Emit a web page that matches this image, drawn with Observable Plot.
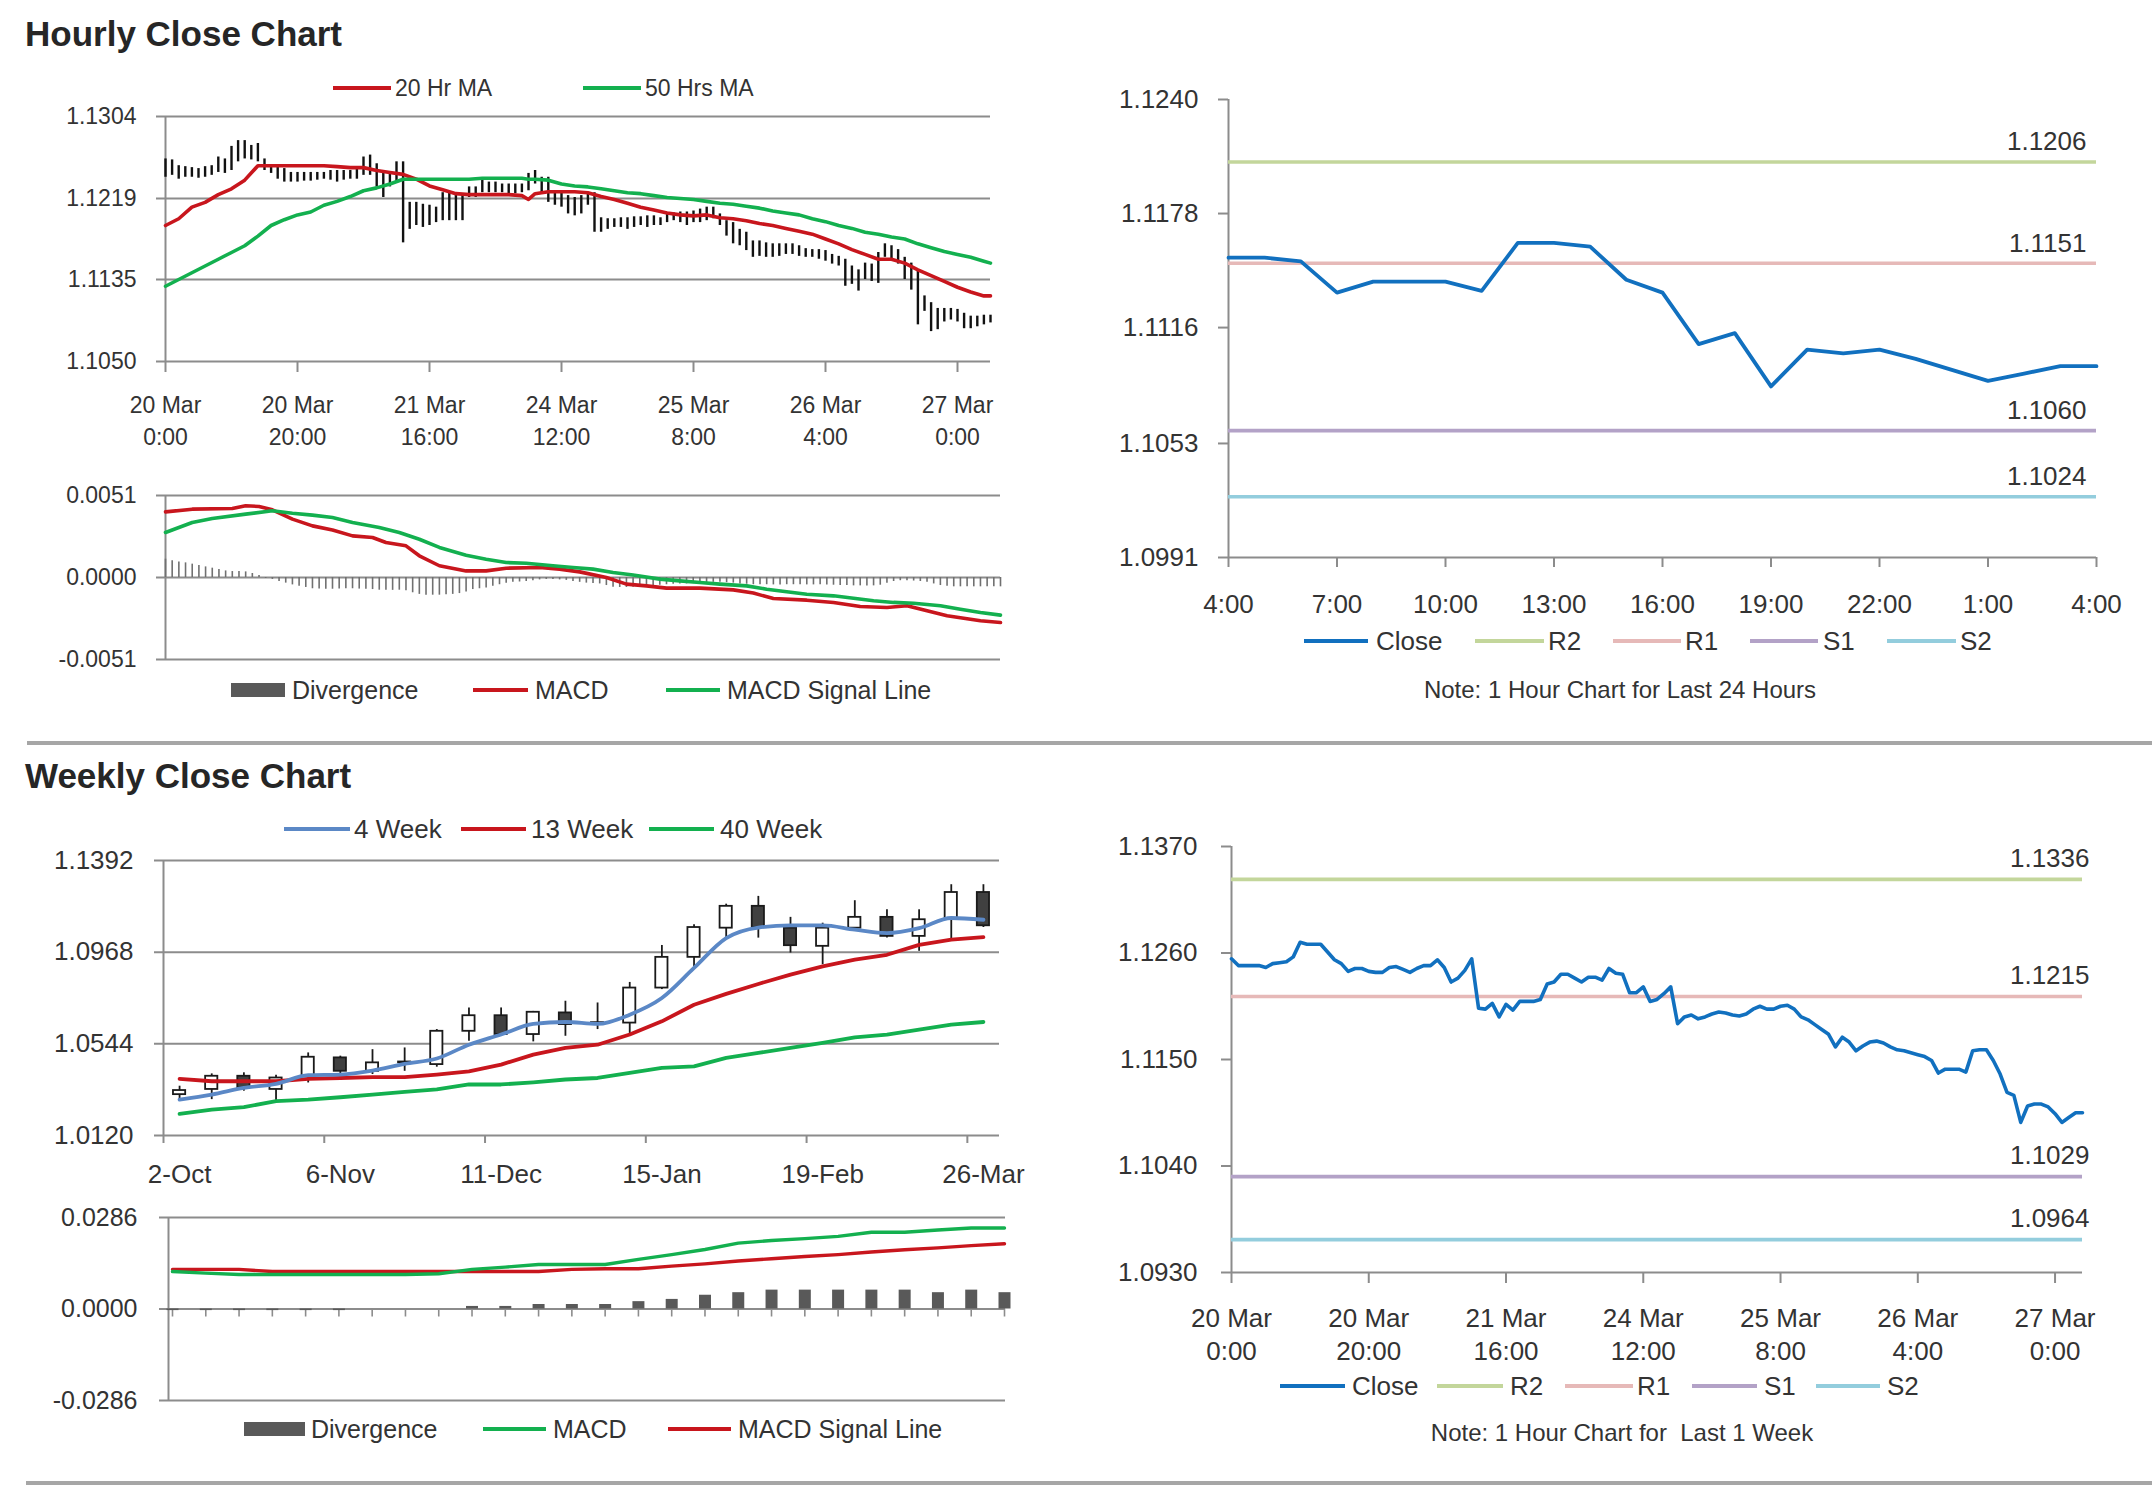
<!DOCTYPE html>
<html><head><meta charset="utf-8">
<script src="https://cdn.jsdelivr.net/npm/d3@7"></script>
<script src="https://cdn.jsdelivr.net/npm/@observablehq/plot@0.6"></script>
<style>
html,body{margin:0;padding:0;background:#fff;}
#page{position:relative;width:2152px;height:1485px;overflow:hidden;background:#fff;font-family:"Liberation Sans",Arial,Helvetica,sans-serif;color:#333;}
#page svg{overflow:visible;}
.title{position:absolute;font-weight:bold;font-size:35px;line-height:35px;color:#262626;white-space:nowrap;}
.sep{position:absolute;background:#a6a6a6;height:4px;}
</style></head>
<body><div id="page"></div>
<script>
// ---------------- DATA ----------------
// Hourly panel (20 Mar 0:00 .. 27 Mar ~5:00), one bar per hour
const hourTickPos = [0, 20, 40, 60, 80, 100, 120];
const hourTickLabels = ["20 Mar\n0:00", "20 Mar\n20:00", "21 Mar\n16:00", "24 Mar\n12:00", "25 Mar\n8:00", "26 Mar\n4:00", "27 Mar\n0:00"];
const p1YTicks = [1.1050, 1.1135, 1.1219, 1.1304];
const p1High = [1.1260,1.1259,1.1253,1.1252,1.1251,1.1250,1.1252,1.1253,1.1262,1.1260,
1.1273,1.1279,1.1279,1.1274,1.1276,1.1260,1.1253,1.1252,1.1250,1.1246,
1.1246,1.1246,1.1246,1.1246,1.1246,1.1248,1.1248,1.1248,1.1248,1.1250,
1.1262,1.1264,1.1255,1.1245,1.1246,1.1257,1.1257,1.1215,1.1215,1.1213,
1.1212,1.1210,1.1225,1.1225,1.1225,1.1222,1.1231,1.1231,1.1238,1.1236,
1.1236,1.1234,1.1234,1.1234,1.1234,1.1245,1.1248,1.1241,1.1241,1.1227,
1.1225,1.1222,1.1220,1.1222,1.1225,1.1225,1.1199,1.1198,1.1198,1.1199,
1.1199,1.1200,1.1200,1.1201,1.1201,1.1199,1.1203,1.1204,1.1205,1.1205,
1.1206,1.1208,1.1210,1.1210,1.1203,1.1196,1.1194,1.1187,1.1184,1.1175,
1.1175,1.1173,1.1172,1.1172,1.1172,1.1172,1.1170,1.1167,1.1166,1.1166,
1.1165,1.1161,1.1159,1.1156,1.1149,1.1145,1.1152,1.1151,1.1163,1.1172,
1.1170,1.1166,1.1158,1.1152,1.1145,1.1118,1.1111,1.1105,1.1105,1.1105,
1.1104,1.1100,1.1097,1.1097,1.1098,1.1098];
const p1Low = [1.1241,1.1243,1.1239,1.1241,1.1241,1.1240,1.1241,1.1243,1.1246,1.1245,
1.1248,1.1257,1.1260,1.1259,1.1257,1.1248,1.1245,1.1239,1.1236,1.1236,
1.1236,1.1237,1.1237,1.1238,1.1239,1.1238,1.1236,1.1238,1.1239,1.1239,
1.1243,1.1243,1.1231,1.1220,1.1231,1.1236,1.1173,1.1187,1.1191,1.1189,
1.1191,1.1194,1.1196,1.1196,1.1196,1.1196,1.1220,1.1220,1.1225,1.1225,
1.1225,1.1225,1.1224,1.1224,1.1225,1.1227,1.1234,1.1225,1.1215,1.1212,
1.1210,1.1203,1.1201,1.1203,1.1212,1.1184,1.1184,1.1187,1.1189,1.1189,
1.1187,1.1189,1.1191,1.1189,1.1191,1.1191,1.1194,1.1196,1.1194,1.1191,
1.1194,1.1194,1.1196,1.1198,1.1191,1.1180,1.1172,1.1170,1.1165,1.1158,
1.1159,1.1158,1.1158,1.1159,1.1161,1.1161,1.1159,1.1158,1.1158,1.1156,
1.1154,1.1151,1.1149,1.1128,1.1130,1.1123,1.1135,1.1133,1.1131,1.1158,
1.1156,1.1151,1.1135,1.1124,1.1088,1.1102,1.1081,1.1083,1.1091,1.1093,
1.1091,1.1084,1.1084,1.1086,1.1088,1.1090];
const maHours = [0,2,4,6,8,10,12,14,16,18,20,22,24,26,28,30,32,34,36,38,40,42,44,46,48,50,52,54,55,56,58,60,62,64,66,68,70,72,74,76,78,80,82,84,86,88,90,92,94,96,98,100,102,104,106,108,110,112,114,116,118,120,122,124,125];
const ma20 = [1.1191,1.1198,1.1210,1.1215,1.1223,1.1229,1.1238,1.1253,1.1253,1.1253,1.1253,1.1253,1.1253,1.1252,1.1251,1.1251,1.1248,1.1246,1.1244,1.1239,1.1232,1.1228,1.1224,1.1223,1.1223,1.1223,1.1223,1.1222,1.1218,1.1224,1.1226,1.1226,1.1226,1.1225,1.1221,1.1218,1.1214,1.1210,1.1207,1.1204,1.1202,1.1201,1.1202,1.1199,1.1198,1.1196,1.1193,1.1191,1.1188,1.1185,1.1182,1.1177,1.1172,1.1166,1.1161,1.1156,1.1156,1.1152,1.1145,1.1139,1.1133,1.1127,1.1122,1.1118,1.1118];
const ma50 = [1.1128,1.1135,1.1142,1.1149,1.1156,1.1163,1.1170,1.1180,1.1191,1.1197,1.1202,1.1205,1.1212,1.1216,1.1221,1.1227,1.1230,1.1234,1.1239,1.1239,1.1239,1.1239,1.1239,1.1239,1.1240,1.1240,1.1240,1.1240,1.1239,1.1239,1.1238,1.1234,1.1232,1.1231,1.1229,1.1227,1.1225,1.1224,1.1222,1.1220,1.1219,1.1218,1.1216,1.1214,1.1213,1.1211,1.1209,1.1206,1.1204,1.1202,1.1198,1.1195,1.1191,1.1188,1.1184,1.1182,1.1179,1.1177,1.1172,1.1168,1.1164,1.1161,1.1158,1.1154,1.1152];
const p1Series = ["20 Hr MA", "50 Hrs MA"];

// Hourly MACD
const p2YTicks = [-0.0051, 0, 0.0051];
const p2Div = [0.00114,0.00104,0.00097,0.00091,0.00083,0.00075,0.00066,0.00058,0.0005,0.00041,
0.00037,0.00037,0.00035,0.00025,0.00012,-0.00006,-0.00012,-0.00025,-0.00035,-0.00046,
-0.00054,-0.00062,-0.0007,-0.00072,-0.00073,-0.00073,-0.00072,-0.0007,-0.0007,-0.00072,
-0.00073,-0.00075,-0.00079,-0.0008,-0.0008,-0.00079,-0.00082,-0.00095,-0.00105,-0.0011,
-0.0011,-0.0011,-0.00108,-0.00105,-0.001,-0.0009,-0.00075,-0.0007,-0.00065,-0.00055,
-0.00045,-0.00035,-0.0003,-0.00028,-0.00025,-0.0002,-0.00015,-0.00012,-0.00012,-0.00015,
-0.00018,-0.00025,-0.0003,-0.00035,-0.00038,-0.0004,-0.0005,-0.0006,-0.00062,-0.00062,
-0.0006,-0.00055,-0.00052,-0.0005,-0.00048,-0.00045,-0.00042,-0.0004,-0.0004,-0.00038,
-0.00035,-0.00032,-0.0003,-0.0003,-0.00032,-0.00035,-0.0004,-0.00042,-0.00045,-0.00045,
-0.00045,-0.00046,-0.00046,-0.00045,-0.00045,-0.00045,-0.00046,-0.00046,-0.00045,-0.00046,
-0.00048,-0.0005,-0.0005,-0.00052,-0.00052,-0.00053,-0.00052,-0.00048,-0.00035,-0.00025,
-0.0002,-0.0002,-0.00022,-0.00025,-0.0003,-0.0004,-0.0005,-0.00055,-0.00058,-0.00058,
-0.00058,-0.00058,-0.00058,-0.00058,-0.00058,-0.00058];
const macdHours = [0,4,10,12,14,16,19,22,25,28,31,33,36,38,41,45,48,51,56,59,62,66,69,72,75,80,85,88,91,96,100,104,108,111,114,117,122,125];
const macdH = [0.00408,0.00425,0.00429,0.00446,0.00442,0.00421,0.00363,0.00321,0.00296,0.00259,0.00249,0.00218,0.00197,0.00135,0.00073,0.00041,0.00041,0.00058,0.00062,0.00052,0.00035,0.0,-0.00041,-0.00052,-0.00066,-0.00066,-0.00077,-0.00097,-0.00131,-0.00141,-0.00155,-0.0018,-0.00187,-0.00176,-0.00207,-0.00238,-0.00269,-0.0028];
const signalHours = [0,4,7,12,16,19,22,25,28,32,35,38,41,45,48,51,54,58,61,64,67,70,74,77,80,83,87,90,93,96,100,103,106,109,112,116,119,122,125];
const signalH = [0.0028,0.00342,0.00367,0.00394,0.00415,0.004,0.00388,0.00373,0.00342,0.00311,0.0028,0.00238,0.00187,0.00139,0.00114,0.00093,0.00089,0.00073,0.00062,0.00052,0.00031,0.00015,-0.0001,-0.00021,-0.00031,-0.00041,-0.00052,-0.00073,-0.00089,-0.00104,-0.00114,-0.00129,-0.00145,-0.00155,-0.0016,-0.00176,-0.00197,-0.00218,-0.00234];
const macdSeries = ["Divergence", "MACD", "MACD Signal Line"];

// Last 24 hours
const p3YTicks = [1.0991, 1.1053, 1.1116, 1.1178, 1.1240];
const p3XTickPos = [0, 3, 6, 9, 12, 15, 18, 21, 24];
const p3XLabels = ["4:00", "7:00", "10:00", "13:00", "16:00", "19:00", "22:00", "1:00", "4:00"];
const p3Close = [1.1154,1.1154,1.1152,1.1135,1.1141,1.1141,1.1141,1.1136,1.1162,1.1162,1.1160,1.1142,1.1135,1.1107,1.1113,1.1084,1.1104,1.1102,1.1104,1.1099,1.1093,1.1087,1.1091,1.1095,1.1095];
const levels24 = [1.1206, 1.1151, 1.1060, 1.1024];   // R2, R1, S1, S2
const levelSeries = ["Close", "R2", "R1", "S1", "S2"];

// Weekly candles
const weekLabelIdx = [0, 5, 10, 15, 20, 25];
const weekLabels = ["2-Oct", "6-Nov", "11-Dec", "15-Jan", "19-Feb", "26-Mar"];
const p4YTicks = [1.0120, 1.0544, 1.0968, 1.1392];
const wkOpen  = [1.0309,1.0333,1.0394,1.0333,1.0394,1.0479,1.0417,1.0456,1.0448,1.0602,1.0674,1.0587,1.0687,1.0640,1.0640,1.0802,1.0944,1.1079,1.1180,1.1079,1.0995,1.1079,1.1129,1.1041,1.1122,1.1244];
const wkClose = [1.0328,1.0394,1.0340,1.0386,1.0482,1.0417,1.0456,1.0460,1.0602,1.0674,1.0587,1.0690,1.0633,1.0642,1.0802,1.0944,1.1082,1.1180,1.1082,1.0998,1.1079,1.1129,1.1041,1.1118,1.1244,1.1090];
const wkHigh  = [1.0348,1.0405,1.0410,1.0399,1.0502,1.0487,1.0517,1.0525,1.0610,1.0710,1.0710,1.0694,1.0741,1.0733,1.0828,1.0999,1.1095,1.1190,1.1226,1.1129,1.1102,1.1206,1.1164,1.1164,1.1280,1.1280];
const wkLow   = [1.0286,1.0286,1.0325,1.0282,1.0363,1.0402,1.0402,1.0417,1.0436,1.0556,1.0579,1.0553,1.0579,1.0610,1.0587,1.0795,1.0902,1.1026,1.1033,1.0964,1.0910,1.1075,1.1033,1.0972,1.1018,1.1082];
const wk4  = [1.0286,1.0309,1.0340,1.0359,1.0399,1.0402,1.0420,1.0451,1.0476,1.0540,1.0587,1.0636,1.0645,1.0636,1.0679,1.0756,1.0895,1.1033,1.1082,1.1092,1.1092,1.1072,1.1056,1.1079,1.1126,1.1118];
const wk13 = [1.0382,1.0371,1.0371,1.0371,1.0382,1.0386,1.0390,1.0390,1.0402,1.0417,1.0448,1.0494,1.0525,1.0540,1.0587,1.0648,1.0725,1.0775,1.0821,1.0864,1.0902,1.0933,1.0956,1.1002,1.1026,1.1038];
const wk40 = [1.0220,1.0240,1.0251,1.0279,1.0286,1.0297,1.0309,1.0322,1.0333,1.0356,1.0356,1.0366,1.0379,1.0386,1.0410,1.0433,1.0440,1.0479,1.0502,1.0525,1.0548,1.0574,1.0587,1.0610,1.0633,1.0645];
const wkSeries = ["4 Week", "13 Week", "40 Week"];

// Weekly MACD
const p5YTicks = [-0.0286, 0, 0.0286];
const p5Div    = [-0.0005,-0.0005,-0.0005,-0.0005,-0.0005,-0.0005,0,0,0,0.0008,0.0008,0.0014,0.0014,0.0014,0.0023,0.0030,0.0043,0.0051,0.0059,0.0059,0.0059,0.0059,0.0059,0.0051,0.0059,0.0051];
const p5Macd   = [0.0117,0.0112,0.0108,0.0108,0.0108,0.0108,0.0108,0.0108,0.0110,0.0124,0.0131,0.0139,0.0139,0.0139,0.0155,0.0170,0.0186,0.0206,0.0214,0.0220,0.0227,0.0240,0.0240,0.0247,0.0253,0.0253];
const p5Signal = [0.0124,0.0124,0.0124,0.0117,0.0117,0.0117,0.0117,0.0117,0.0117,0.0117,0.0117,0.0117,0.0124,0.0126,0.0126,0.0134,0.0141,0.0150,0.0157,0.0164,0.0170,0.0178,0.0185,0.0191,0.0198,0.0204];

// Last 1 week, hourly close
const p6YTicks = [1.0930, 1.1040, 1.1150, 1.1260, 1.1370];
const p6Close = [1.1254,1.1247,1.1247,1.1247,1.1247,1.1245,1.1249,1.1250,1.1251,1.1256,
1.1271,1.1269,1.1269,1.1269,1.1261,1.1253,1.1249,1.1241,1.1244,1.1244,
1.1241,1.1240,1.1240,1.1245,1.1246,1.1243,1.1240,1.1244,1.1247,1.1247,
1.1253,1.1245,1.1230,1.1234,1.1242,1.1254,1.1203,1.1202,1.1208,1.1194,
1.1207,1.1201,1.1210,1.1210,1.1210,1.1212,1.1228,1.1230,1.1238,1.1238,
1.1234,1.1230,1.1235,1.1235,1.1232,1.1244,1.1239,1.1238,1.1219,1.1219,
1.1225,1.1210,1.1212,1.1218,1.1225,1.1187,1.1194,1.1196,1.1192,1.1194,
1.1197,1.1199,1.1198,1.1196,1.1195,1.1197,1.1202,1.1205,1.1202,1.1202,
1.1205,1.1206,1.1202,1.1194,1.1191,1.1186,1.1181,1.1176,1.1163,1.1173,
1.1168,1.1159,1.1164,1.1168,1.1169,1.1167,1.1163,1.1160,1.1159,1.1157,
1.1155,1.1153,1.1149,1.1136,1.1140,1.1140,1.1140,1.1137,1.1159,1.1160,
1.1160,1.1149,1.1135,1.1116,1.1113,1.1085,1.1102,1.1104,1.1104,1.1101,
1.1094,1.1085,1.1090,1.1095,1.1095];
const levelsWeek = [1.1336, 1.1215, 1.1029, 1.0964];  // R2, R1, S1, S2

const titles = ["Hourly Close Chart", "Weekly Close Chart"];
const notes = ["Note: 1 Hour Chart for Last 24 Hours", "Note: 1 Hour Chart for  Last 1 Week"];

// ---------------- STYLE ----------------
const FONT = '"Liberation Sans", Arial, Helvetica, sans-serif';
const TXT = "#333333";
const GRID = "#8c8c8c";
const RED = "#c8161d", GREEN = "#13b04f", BLUE = "#1170bf", WBLUE = "#5b88c6", DIV = "#595959";
const LEVEL_COLORS = ["#c3d69b", "#e6b9b8", "#b3a2c7", "#93cddd"];
const fmt4 = d => d.toFixed(4);

const page = document.getElementById("page");
function put(node, left, top) {
  node.style.position = "absolute";
  node.style.left = left + "px";
  node.style.top = top + "px";
  page.appendChild(node);
}
function div(cls, css, text) {
  const d = document.createElement("div");
  if (cls) d.className = cls;
  d.style.cssText = css;
  if (text != null) d.textContent = text;
  page.appendChild(d);
  return d;
}
function style(fs) {
  return {fontFamily: FONT, fontSize: fs + "px", color: TXT, background: "transparent", overflow: "visible"};
}
function legend(items, y, fs) {
  for (const it of items) {
    const h = it.box ? 14 : 4;
    div(null, `position:absolute;left:${it.sx}px;top:${y - h / 2}px;width:${it.sw}px;height:${h}px;background:${it.color}`);
    div(null, `position:absolute;left:${it.tx}px;top:${y - 0.49 * fs}px;font-size:${fs}px;line-height:${fs}px;color:${TXT};white-space:nowrap`, it.label);
  }
}

// ---------------- TITLES / SEPARATORS ----------------
div("title", "left:25px;top:16px", titles[0]);
div("title", "left:25px;top:758px", titles[1]);
div("sep", "left:27px;top:741px;width:2125px");
div("sep", "left:26px;top:1481px;width:2126px");

// ---------------- PANEL 1: hourly bars + MAs ----------------
const hourIdx = d3.range(p1High.length);
put(Plot.plot({
  width: 1010, height: 370, marginLeft: 165, marginRight: 20, marginTop: 20, marginBottom: 105,
  style: style(23),
  x: {domain: [0, p1High.length - 1], axis: null},
  y: {domain: [p1YTicks[0], p1YTicks[p1YTicks.length - 1]], axis: null},
  marks: [
    Plot.ruleY(p1YTicks, {stroke: GRID, strokeWidth: 2, insetLeft: -9}),
    Plot.ruleX([0], {stroke: GRID, strokeWidth: 2}),
    Plot.ruleX(hourTickPos, {x: d => d, y1: p1YTicks[0], y2: p1YTicks[0], insetBottom: -11, stroke: GRID, strokeWidth: 2}),
    Plot.text(p1YTicks, {y: d => d, frameAnchor: "left", textAnchor: "end", dx: -29, text: fmt4, fill: TXT}),
    Plot.text(hourTickPos, {x: d => d, frameAnchor: "bottom", lineAnchor: "top", dy: 29, lineHeight: 1.39, text: (d, i) => hourTickLabels[i], fill: TXT}),
    Plot.ruleX(hourIdx, {x: i => i, y1: i => p1Low[i], y2: i => p1High[i], stroke: "#111", strokeWidth: 2.4}),
    Plot.line(ma20, {x: (d, i) => maHours[i], y: d => d, stroke: RED, strokeWidth: 3.6}),
    Plot.line(ma50, {x: (d, i) => maHours[i], y: d => d, stroke: GREEN, strokeWidth: 3.6})
  ]
}), 0, 96);
legend([
  {sx: 333, sw: 58, color: RED, tx: 395, label: p1Series[0]},
  {sx: 583, sw: 58, color: GREEN, tx: 645, label: p1Series[1]}
], 88, 23);

// ---------------- PANEL 2: hourly MACD ----------------
put(Plot.plot({
  width: 1020, height: 200, marginLeft: 165, marginRight: 20, marginTop: 25, marginBottom: 11,
  style: style(23),
  x: {domain: [0, p2Div.length - 1], axis: null},
  y: {domain: [p2YTicks[0], p2YTicks[p2YTicks.length - 1]], axis: null},
  marks: [
    Plot.ruleY(p2YTicks, {stroke: GRID, strokeWidth: 2, insetLeft: -9}),
    Plot.ruleX([0], {stroke: GRID, strokeWidth: 2}),
    Plot.text(p2YTicks, {y: d => d, frameAnchor: "left", textAnchor: "end", dx: -29, text: fmt4, fill: TXT}),
    Plot.ruleX(p2Div, {x: (d, i) => i, y1: 0, y2: d => d, stroke: "#707070", strokeWidth: 1.6}),
    Plot.line(macdH, {x: (d, i) => macdHours[i], y: d => d, stroke: RED, strokeWidth: 3.6}),
    Plot.line(signalH, {x: (d, i) => signalHours[i], y: d => d, stroke: GREEN, strokeWidth: 3.6})
  ]
}), 0, 470);
legend([
  {sx: 231, sw: 54, color: DIV, box: true, tx: 292, label: macdSeries[0]},
  {sx: 473, sw: 55, color: RED, tx: 535, label: macdSeries[1]},
  {sx: 666, sw: 54, color: GREEN, tx: 727, label: macdSeries[2]}
], 690, 25);

// ---------------- PANEL 3: last 24 hours ----------------
put(Plot.plot({
  width: 1080, height: 560, marginLeft: 168, marginRight: 44, marginTop: 29, marginBottom: 73,
  style: style(26),
  x: {domain: [0, p3Close.length - 1], axis: null},
  y: {domain: [p3YTicks[0], p3YTicks[p3YTicks.length - 1]], axis: null},
  marks: [
    Plot.ruleX([0], {stroke: GRID, strokeWidth: 2}),
    Plot.ruleY([p3YTicks[0]], {stroke: GRID, strokeWidth: 2}),
    Plot.ruleY(p3YTicks, {y: d => d, x1: 0, x2: 0, insetLeft: -10, stroke: GRID, strokeWidth: 2}),
    Plot.ruleX(p3XTickPos, {x: d => d, y1: p3YTicks[0], y2: p3YTicks[0], insetBottom: -10, stroke: GRID, strokeWidth: 2}),
    Plot.text(p3YTicks, {y: d => d, frameAnchor: "left", textAnchor: "end", dx: -30, text: fmt4, fill: TXT}),
    Plot.text(p3XTickPos, {x: d => d, frameAnchor: "bottom", lineAnchor: "top", dy: 37, text: (d, i) => p3XLabels[i], fill: TXT}),
    Plot.ruleY(levels24, {y: d => d, stroke: (d, i) => LEVEL_COLORS[i], strokeWidth: 3.6}),
    Plot.text(levels24, {y: d => d, frameAnchor: "right", textAnchor: "end", dx: -10, dy: -20, text: fmt4, fill: TXT}),
    Plot.line(p3Close, {x: (d, i) => i, y: d => d, stroke: BLUE, strokeWidth: 3.8})
  ]
}), 1060, 70);
legend([
  {sx: 1304, sw: 64, color: BLUE, tx: 1376, label: levelSeries[0]},
  {sx: 1475, sw: 69, color: LEVEL_COLORS[0], tx: 1548, label: levelSeries[1]},
  {sx: 1613, sw: 68, color: LEVEL_COLORS[1], tx: 1685, label: levelSeries[2]},
  {sx: 1750, sw: 68, color: LEVEL_COLORS[2], tx: 1823, label: levelSeries[3]},
  {sx: 1887, sw: 69, color: LEVEL_COLORS[3], tx: 1960, label: levelSeries[4]}
], 641, 26);
div(null, `position:absolute;left:1620px;top:${690 - 0.49 * 24}px;transform:translateX(-50%);font-size:24px;line-height:24px;color:${TXT};white-space:pre`, notes[0]);

// ---------------- PANEL 4: weekly candles ----------------
const weekIdx = d3.range(wkOpen.length);
put(Plot.plot({
  width: 1020, height: 380, marginLeft: 163, marginRight: 21, marginTop: 30, marginBottom: 75,
  style: style(26),
  x: {domain: [-0.5, wkOpen.length - 0.5], axis: null},
  y: {domain: [p4YTicks[0], p4YTicks[p4YTicks.length - 1]], axis: null},
  marks: [
    Plot.ruleY(p4YTicks, {stroke: GRID, strokeWidth: 2, insetLeft: -9}),
    Plot.ruleX([-0.5], {stroke: GRID, strokeWidth: 2}),
    Plot.ruleX(weekLabelIdx, {x: d => d - 0.5, y1: p4YTicks[0], y2: p4YTicks[0], insetBottom: -8, stroke: GRID, strokeWidth: 2}),
    Plot.text(p4YTicks, {y: d => d, frameAnchor: "left", textAnchor: "end", dx: -30, text: fmt4, fill: TXT}),
    Plot.text(weekLabelIdx, {x: d => d, frameAnchor: "bottom", lineAnchor: "top", dy: 29, text: (d, i) => weekLabels[i], fill: TXT}),
    Plot.ruleX(weekIdx, {x: i => i, y1: i => wkLow[i], y2: i => wkHigh[i], stroke: "#1a1a1a", strokeWidth: 1.8}),
    Plot.rect(weekIdx, {x1: i => i - 0.19, x2: i => i + 0.19, y1: i => wkOpen[i], y2: i => wkClose[i],
      fill: i => wkClose[i] >= wkOpen[i] ? "#ffffff" : "#404040", stroke: "#1a1a1a", strokeWidth: 1.8}),
    Plot.line(wk40, {x: (d, i) => i, y: d => d, stroke: GREEN, strokeWidth: 3.8}),
    Plot.line(wk13, {x: (d, i) => i, y: d => d, stroke: RED, strokeWidth: 3.8}),
    Plot.line(wk4, {x: (d, i) => i, y: d => d, stroke: WBLUE, strokeWidth: 3.8, curve: "monotone-x"})
  ]
}), 0, 830);
legend([
  {sx: 284, sw: 66, color: WBLUE, tx: 354, label: wkSeries[0]},
  {sx: 461, sw: 65, color: RED, tx: 531, label: wkSeries[1]},
  {sx: 649, sw: 65, color: GREEN, tx: 720, label: wkSeries[2]}
], 829, 26);

// ---------------- PANEL 5: weekly MACD ----------------
put(Plot.plot({
  width: 1030, height: 225, marginLeft: 168, marginRight: 25, marginTop: 27, marginBottom: 15,
  style: style(25),
  x: {domain: [0, p5Div.length - 1], insetLeft: 4, insetRight: 1, axis: null},
  y: {domain: [p5YTicks[0], p5YTicks[p5YTicks.length - 1]], axis: null},
  marks: [
    Plot.ruleY(p5YTicks, {stroke: GRID, strokeWidth: 2, insetLeft: -9}),
    Plot.ruleX([0], {stroke: GRID, strokeWidth: 2, dx: -4}),
    Plot.ruleX(weekIdx, {x: i => i, y1: 0, y2: 0, insetBottom: -8, stroke: GRID, strokeWidth: 1.6}),
    Plot.text(p5YTicks, {y: d => d, frameAnchor: "left", textAnchor: "end", dx: -31, text: fmt4, fill: TXT}),
    Plot.ruleX(p5Div, {x: (d, i) => i, y1: 0, y2: d => d, stroke: DIV, strokeWidth: 12}),
    Plot.line(p5Signal, {x: (d, i) => i, y: d => d, stroke: RED, strokeWidth: 3.4}),
    Plot.line(p5Macd, {x: (d, i) => i, y: d => d, stroke: GREEN, strokeWidth: 3.4})
  ]
}), 0, 1190);
legend([
  {sx: 244, sw: 61, color: DIV, box: true, tx: 311, label: macdSeries[0]},
  {sx: 483, sw: 63, color: GREEN, tx: 553, label: macdSeries[1]},
  {sx: 668, sw: 63, color: RED, tx: 738, label: macdSeries[2]}
], 1429, 25);

// ---------------- PANEL 6: last week hourly close ----------------
put(Plot.plot({
  width: 1060, height: 600, marginLeft: 171, marginRight: 38, marginTop: 26, marginBottom: 148,
  style: style(26),
  x: {domain: [0, p6Close.length - 1], axis: null},
  y: {domain: [p6YTicks[0], p6YTicks[p6YTicks.length - 1]], axis: null},
  marks: [
    Plot.ruleX([0], {stroke: GRID, strokeWidth: 2}),
    Plot.ruleY([p6YTicks[0]], {stroke: GRID, strokeWidth: 2}),
    Plot.ruleY(p6YTicks, {y: d => d, x1: 0, x2: 0, insetLeft: -10, stroke: GRID, strokeWidth: 2}),
    Plot.ruleX(hourTickPos, {x: d => d, y1: p6YTicks[0], y2: p6YTicks[0], insetBottom: -11, stroke: GRID, strokeWidth: 2}),
    Plot.text(p6YTicks, {y: d => d, frameAnchor: "left", textAnchor: "end", dx: -34, text: fmt4, fill: TXT}),
    Plot.text(hourTickPos, {x: d => d, frameAnchor: "bottom", lineAnchor: "top", dy: 31, lineHeight: 1.27, text: (d, i) => hourTickLabels[i], fill: TXT}),
    Plot.ruleY(levelsWeek, {y: d => d, stroke: (d, i) => LEVEL_COLORS[i], strokeWidth: 3.6}),
    Plot.text(levelsWeek, {y: d => d, frameAnchor: "right", textAnchor: "end", dx: 7, dy: -21, text: fmt4, fill: TXT}),
    Plot.line(p6Close, {x: (d, i) => i, y: d => d, stroke: BLUE, strokeWidth: 3.6})
  ]
}), 1060, 820);
legend([
  {sx: 1280, sw: 65, color: BLUE, tx: 1352, label: levelSeries[0]},
  {sx: 1437, sw: 66, color: LEVEL_COLORS[0], tx: 1510, label: levelSeries[1]},
  {sx: 1565, sw: 68, color: LEVEL_COLORS[1], tx: 1637, label: levelSeries[2]},
  {sx: 1692, sw: 65, color: LEVEL_COLORS[2], tx: 1764, label: levelSeries[3]},
  {sx: 1816, sw: 64, color: LEVEL_COLORS[3], tx: 1887, label: levelSeries[4]}
], 1386, 26);
div(null, `position:absolute;left:1622px;top:${1433 - 0.49 * 24}px;transform:translateX(-50%);font-size:24px;line-height:24px;color:${TXT};white-space:pre`, notes[1]);
</script>
</body></html>
